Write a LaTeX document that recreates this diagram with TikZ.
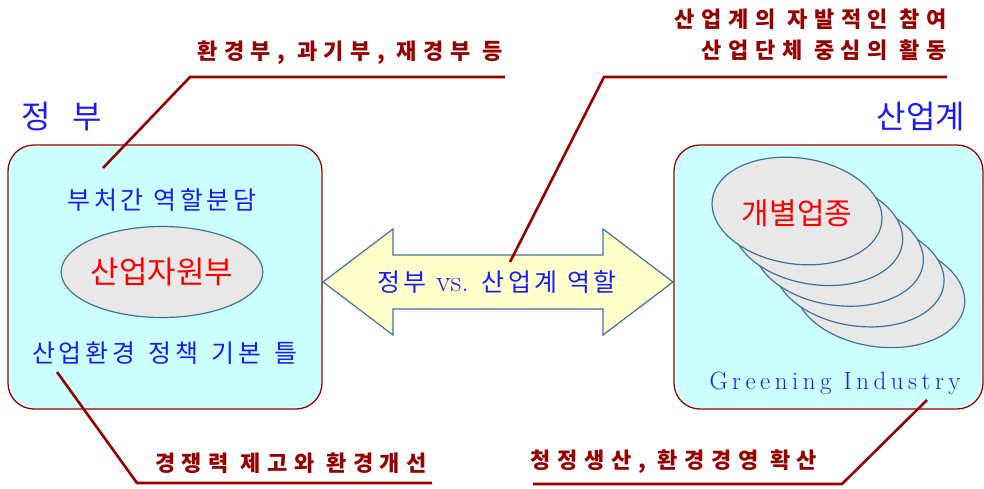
\documentclass[tikz,border=0pt]{standalone}
\usepackage{fontspec}
\newfontfamily\krfont{Noto Sans CJK KR}
\newfontfamily\krspaced[LetterSpace=15]{Noto Sans CJK KR}
\newfontfamily\krlabel[LetterSpace=30]{Noto Sans CJK KR}
\newfontfamily\greenfont[LetterSpace=18]{Latin Modern Roman}
\usetikzlibrary{shapes.geometric}
\definecolor{boxfill}{HTML}{CCFFFF}
\definecolor{boxline}{HTML}{A00000}
\definecolor{labelred}{HTML}{990000}
\definecolor{ovalfill}{HTML}{E8E8E8}
\definecolor{ovalline}{HTML}{41719C}
\definecolor{arrowfill}{HTML}{FFFFCC}
\definecolor{textblue}{HTML}{1A1AFF}

\begin{document}
\begin{tikzpicture}[x=1pt, y=-1pt,
    panel/.style={draw=boxline, line width=1.3pt, fill=boxfill, rounded corners=26pt},
    oval/.style={ellipse, draw=ovalline, line width=1.2pt, fill=ovalfill, inner sep=0pt},
    lead/.style={draw=labelred, line width=2.6pt},
    note/.style={text=labelred, font=\krlabel\bfseries\fontsize{22}{31}\selectfont, inner sep=0pt},
    body/.style={text=textblue, font=\krspaced\fontsize{25}{28}\selectfont, inner sep=0pt},
    title/.style={text=textblue, font=\krfont\fontsize{32}{36}\selectfont, inner sep=0pt}]
    \useasboundingbox (0,0) rectangle (984,488);
    \draw[panel] (8,145) rectangle (322,409);
    \draw[panel] (674,145) rectangle (983,409);
    \node[title] (gov) at (62,117) {정\hspace{22pt}부};
    \node[title] (ind) at (921,117) {산업계};

    \node[body] (share) at (162,200) {부처간 역할분담};
    \node[oval, minimum width=186pt, minimum height=91pt, text=red,
          font=\krfont\fontsize{31}{34}\selectfont] (moci) at (162,272) {산업자원부};
    \node[body] (frame) at (165,353) {산업환경\hspace{4pt} 정책\hspace{4pt} 기본\hspace{4pt} 틀};

    \foreach \i in {4,3,2,1}
        \node[oval, minimum width=171pt, minimum height=106pt, rotate=-8]
            (sector\i) at ({797+20.7*\i},{211+20.7*\i}) {};
    \node[oval, minimum width=171pt, minimum height=106pt, rotate=-8] (sector) at (797,211) {};
    \node[text=red, font=\krfont\fontsize{30}{34}\selectfont, inner sep=0pt] (sectorname) at (797,213) {개별업종};
    \node[text=textblue, font=\greenfont\fontsize{25}{28}\selectfont, inner sep=0pt]
        (green) at (835,383) {Greening Industry};

    \draw[draw=ovalline, line width=1.2pt, fill=arrowfill] (323,282) -- (393,229) -- (393,255)
        -- (603,255) -- (603,229) -- (673,282) -- (603,335) -- (603,309) -- (393,309) -- (393,335) -- cycle;
    \node[body] (roles) at (497,282) {정부 {\rmfamily\fontsize{30}{30}\selectfont vs.} 산업계 역할};

    \node[note] (tlnote) at (350,53) {환경부, 과기부, 재경부 등};
    \node[note, align=right, anchor=east] (trnote) at (947,35) {산업계의 자발적인 참여\\산업단체 중심의 활동};
    \node[note] (blnote) at (291,463) {경쟁력 제고와 환경개선};
    \node[note] (brnote) at (674,462) {청정생산, 환경경영 확산};

    \coordinate (tltip) at (103,168);
    \coordinate (tlknee) at (190,77);
    \coordinate (tlend) at (505,77);
    \coordinate (trtip) at (510,262);
    \coordinate (trknee) at (604,77);
    \coordinate (trend) at (947,77);
    \coordinate (bltip) at (57,372);
    \coordinate (blknee) at (137,483);
    \coordinate (blend) at (432,483);
    \coordinate (brtip) at (927,400);
    \coordinate (brknee) at (842,484);
    \coordinate (brend) at (533,484);
    \draw[lead] (tltip) -- (tlknee) -- (tlend);
    \draw[lead] (trtip) -- (trknee) -- (trend);
    \draw[lead] (bltip) -- (blknee) -- (blend);
    \draw[lead] (brtip) -- (brknee) -- (brend);
\end{tikzpicture}
\end{document}
